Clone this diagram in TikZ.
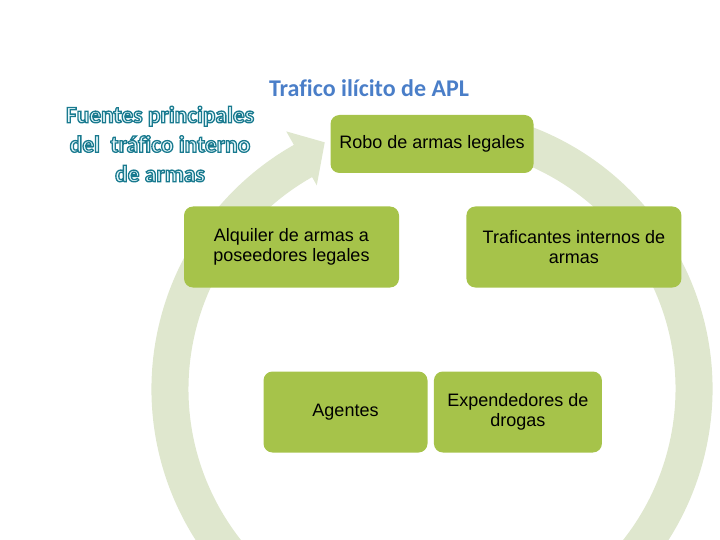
\documentclass[tikz,border=0pt]{standalone}
\usepackage{fontspec}
\setmainfont{Liberation Sans}
\newfontfamily\calibri[Ligatures=NoCommon]{Carlito}
\usetikzlibrary{positioning}
\definecolor{olive}{RGB}{166,195,74}
\definecolor{pale}{RGB}{223,231,206}
\definecolor{titleblue}{RGB}{74,126,200}
% outlined letters: stroke teal, fill pale cyan
\newcommand{\hollow}[1]{\special{pdf:code q 2 Tr 1.3 w 0.10 0.48 0.56 RG 0.90 0.97 0.98 rg}#1\special{pdf:code Q}}
\tikzset{
  box/.style={rounded corners=9pt,fill=olive,align=center,inner sep=0pt,
              font=\fontsize{18}{20.5}\selectfont},
  wide/.style={box,minimum width=215pt,minimum height=81pt},
  narrow/.style={box,minimum width=168pt,minimum height=81pt},
  heading/.style={font=\calibri\bfseries\fontsize{24}{30}\selectfont,align=center}
}

\begin{document}
\begin{tikzpicture}[x=1pt,y=-1pt]
  \useasboundingbox (0,0) rectangle (720,540);
  \clip (0,0) rectangle (720,540);

  % circular arrow behind the boxes
  \begin{scope}[shift={(432,389)},y=1pt]
    \fill[pale] (76:280.5) arc[start angle=76,end angle=-240.5,radius=280.5]
      -- (119.5:296) -- (113.5:269) -- (119.5:234)
      -- (119.5:243.5) arc[start angle=-240.5,end angle=76,radius=243.5] -- cycle;
  \end{scope}

  \node[heading,text=titleblue] (apl) at (369,88) {Trafico ilícito de APL};
  \node[heading,font=\calibri\bfseries\fontsize{23.5}{29.5}\selectfont] (fuentes) at (160,144)
    {\hollow{Fuentes principales}\\\hollow{del~ tráfico interno}\\\hollow{de armas}};

  \node[box,minimum width=203pt,minimum height=58pt] (robo) at (432,144) {Robo de armas legales};
  \node[wide] (alq) at (291.5,247) {Alquiler de armas a\\poseedores legales};
  \node[wide,right=67pt of alq] (traf) {Traficantes internos de\\armas};
  \node[narrow,minimum width=164pt] (ag) at (345.5,412) {Agentes};
  \node[narrow,right=6pt of ag] (exp) {Expendedores de\\drogas};
\end{tikzpicture}
\end{document}
